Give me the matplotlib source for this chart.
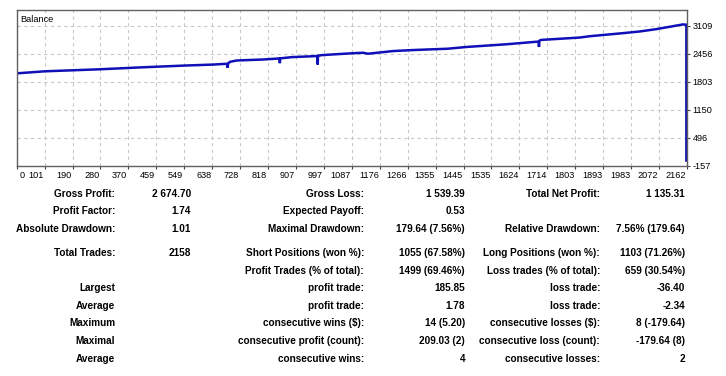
import matplotlib
matplotlib.use("Agg")
import matplotlib.pyplot as plt
import numpy as np

# balance curve (trade number, balance)
trades = [0, 91, 268, 408, 542, 634, 671, 679, 680, 681, 687, 709, 795, 846, 847,
          848, 849, 886, 964, 969, 970, 971, 983, 1074, 1116, 1132, 1212, 1277,
          1389, 1448, 1577, 1679, 1682, 1683, 1684, 1690, 1814, 1846, 1953, 2007,
          2061, 2147, 2156, 2158, 2158]
balance = [2001, 2049, 2096, 2143, 2183, 2206, 2222, 2222, 2128, 2225, 2269, 2301,
           2324, 2348, 2348, 2238, 2350, 2379, 2403, 2405, 2206, 2410, 2426, 2466,
           2481, 2458, 2520, 2544, 2575, 2615, 2678, 2740, 2742, 2615, 2760, 2780,
           2835, 2866, 2937, 2976, 3031, 3141, 3135, 3135, -30]

x_tick_labels = ["0", "101", "190", "280", "370", "459", "549", "638", "728", "818",
                 "907", "997", "1087", "1176", "1266", "1355", "1445", "1535", "1624",
                 "1714", "1803", "1893", "1983", "2072", "2162"]
y_ticks = [-157, 496, 1150, 1803, 2456, 3109]

# report table, one list per column
label_a = ["Gross Profit:", "Profit Factor:", "Absolute Drawdown:", "Total Trades:", "",
           "Largest", "Average", "Maximum", "Maximal", "Average"]
value_a = ["2 674.70", "1.74", "1.01", "2158", "", "", "", "", "", ""]
label_b = ["Gross Loss:", "Expected Payoff:", "Maximal Drawdown:", "Short Positions (won %):",
           "Profit Trades (% of total):", "profit trade:", "profit trade:",
           "consecutive wins ($):", "consecutive profit (count):", "consecutive wins:"]
value_b = ["1 539.39", "0.53", "179.64 (7.56%)", "1055 (67.58%)", "1499 (69.46%)",
           "185.85", "1.78", "14 (5.20)", "209.03 (2)", "4"]
label_c = ["Total Net Profit:", "", "Relative Drawdown:", "Long Positions (won %):",
           "Loss trades (% of total):", "loss trade:", "loss trade:",
           "consecutive losses ($):", "consecutive loss (count):", "consecutive losses:"]
value_c = ["1 135.31", "", "7.56% (179.64)", "1103 (71.26%)", "659 (30.54%)",
           "-36.40", "-2.34", "8 (-179.64)", "-179.64 (8)", "2"]

W, H = 726, 376
fig = plt.figure(figsize=(W / 100, H / 100), dpi=100)
fig.patch.set_facecolor("white")

ax = fig.add_axes([16.7 / W, 1 - 166 / H, (687 - 16.7) / W, (166 - 10.3) / H])
ax.plot(trades, balance, color="#1010b8", linewidth=1.8, solid_joinstyle="miter")

x_max = 2160
xt = np.linspace(0, x_max, len(x_tick_labels))
ax.set_xlim(0, x_max)
ax.set_ylim(-157, 3470)
ax.set_xticks(xt)
ax.set_xticklabels([])
ax.set_yticks(y_ticks)
ax.set_yticklabels([str(v) for v in y_ticks])
ax.yaxis.tick_right()

ax.grid(True, color="#c8c8c8", linestyle=(0, (3, 3)), linewidth=0.8)
for s in ax.spines.values():
    s.set_color("#606060")
    s.set_linewidth(1.0)
ax.tick_params(axis="both", direction="out", length=2, width=0.8, color="#404040",
               labelsize=6.6, pad=2)
for lab in ax.get_yticklabels():
    lab.set_family("Liberation Sans")

# MT4 style: x labels sit left of their gridline
for i, (pos, txt) in enumerate(zip(xt, x_tick_labels)):
    ha = "left" if i == 0 else "right"
    off = 3 if i == 0 else -1
    ax.annotate(txt, xy=(pos, 0), xycoords=("data", "axes fraction"),
                xytext=(off * 0.72, -7), textcoords="offset points",
                ha=ha, va="center", fontsize=6.6, family="Liberation Sans")

ax.text(4 / (687 - 16.7), 0.94, "Balance", transform=ax.transAxes,
        fontsize=6.6, family="Liberation Sans", va="center", ha="left")

row_y = [194, 211, 228.5, 253, 270.5, 288, 306, 323.5, 341, 358.5]
col_right = [115, 191, 364, 465, 600, 685]
cols = [label_a, value_a, label_b, value_b, label_c, value_c]
for xr, col in zip(col_right, cols):
    for y, txt in zip(row_y, col):
        if txt:
            fig.text(xr / W, 1 - y / H, txt, ha="right", va="center",
                     fontsize=7.2, fontweight="bold", family="Liberation Sans")

fig.savefig("out.png", dpi=100)
